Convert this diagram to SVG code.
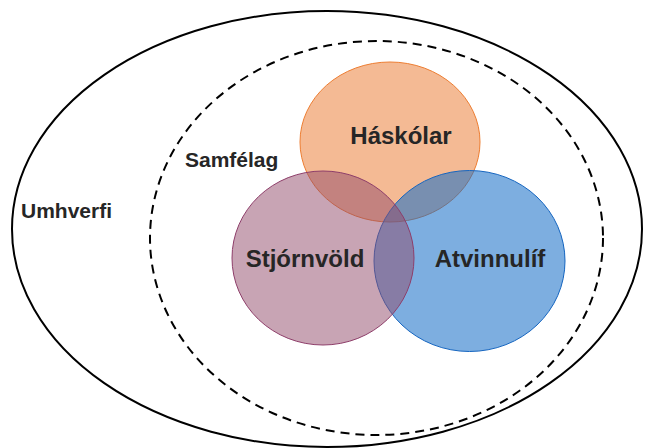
<svg xmlns="http://www.w3.org/2000/svg" width="646" height="448" viewBox="0 0 646 448">
<style>
text{font-family:"Liberation Sans",Arial,sans-serif;font-weight:bold;fill:#262626}
.big{font-size:24px}
.mid{font-size:21px}
</style>
<rect width="646" height="448" fill="#ffffff"/>
<g id="umhverfi">
<ellipse cx="327" cy="229" rx="315" ry="218" fill="none" stroke="#000" stroke-width="2"/>
<text class="mid" x="21" y="218">Umhverfi</text>
</g>
<g id="samfelag">
<ellipse cx="376.5" cy="238" rx="226.5" ry="197" fill="none" stroke="#000" stroke-width="2" stroke-dasharray="9,6"/>
<text class="mid" x="185" y="167">Samfélag</text>
</g>
<g id="haskolar">
<ellipse cx="390" cy="142" rx="90" ry="80" fill="#F4BA94" stroke="#ED7D31" stroke-width="1"/>
<text class="big" x="401" y="144" text-anchor="middle">Háskólar</text>
</g>
<g id="atvinnulif">
<ellipse cx="469.5" cy="261" rx="95.5" ry="90.5" fill="#136CC7" fill-opacity="0.55" stroke="#1565C0" stroke-width="1"/>
<text class="big" x="490" y="267" text-anchor="middle">Atvinnulíf</text>
</g>
<g id="stjornvold">
<ellipse cx="323" cy="258" rx="91" ry="87" fill="#91496A" fill-opacity="0.5" stroke="#8E3E6A" stroke-width="1"/>
<text class="big" x="305" y="267" text-anchor="middle">Stjórnvöld</text>
</g>
<g id="connectors"/>
</svg>
